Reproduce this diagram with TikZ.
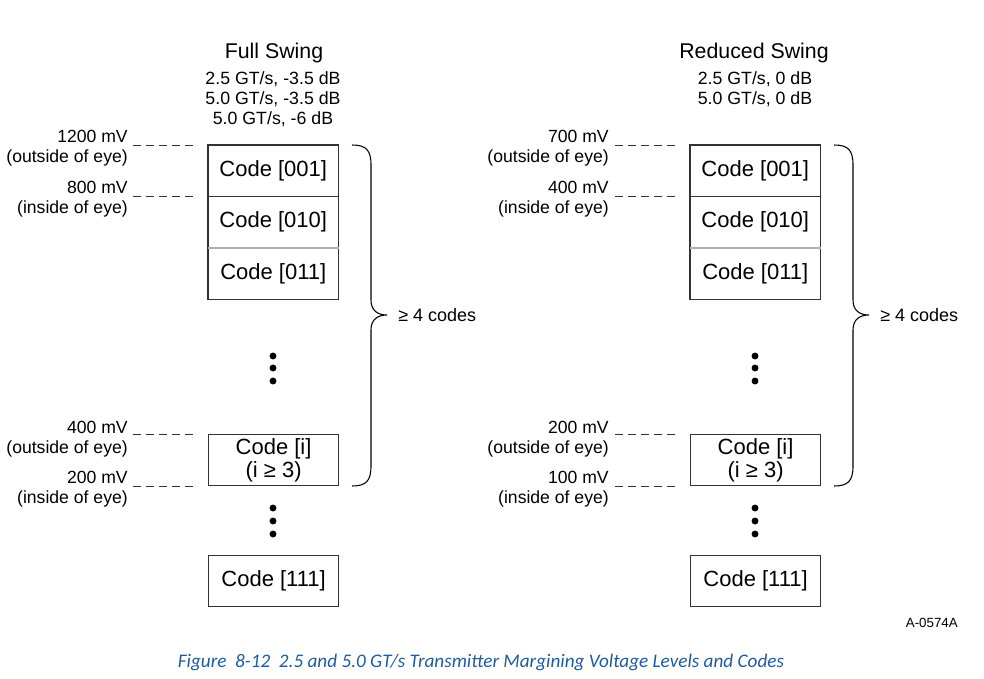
\documentclass[tikz,border=0pt]{standalone}
\usepackage{fontspec}
\setmainfont{Liberation Sans}
\newfontfamily\capfont{Carlito}
\usetikzlibrary{positioning}
\definecolor{capblue}{RGB}{30,92,160}
\definecolor{framegray}{RGB}{50,50,50}
\definecolor{rulegray}{RGB}{175,175,175}

\begin{document}
\begin{tikzpicture}[
  x=0.75pt, y=-0.75pt,
  codecell/.style={
    rectangle,
    minimum width=97.5pt,
    minimum height=38.25pt,
    inner sep=0pt,
    align=center,
    font=\fontsize{16.5}{17.5}\selectfont
  },
  codebox/.style={codecell, draw=framegray, line width=0.9pt},
  frame/.style={draw=framegray, line width=0.9pt},
  divider/.style={draw=rulegray, line width=0.9pt},
  swingtitle/.style={font=\fontsize{16}{18}\selectfont, inner sep=0pt, anchor=base},
  rates/.style={font=\fontsize{13.3}{15}\selectfont, align=center, inner sep=0pt, anchor=north},
  level/.style={font=\fontsize{13.2}{15}\selectfont, align=right, inner sep=0pt, anchor=north east},
  dashline/.style={draw=framegray, line width=0.75pt, dash pattern=on 6pt off 3.75pt},
  brace/.style={draw=black, line width=0.8pt},
  count/.style={font=\fontsize{13.5}{15}\selectfont, anchor=west, inner sep=0pt}
]
\useasboundingbox (0,0) rectangle (984,678);

% full swing
\node[swingtitle] (fsTitle) at (274,58) {Full Swing};
\node[rates] (fsRates) at (273,71) {2.5 GT/s, -3.5 dB\\5.0 GT/s, -3.5 dB\\5.0 GT/s, -6 dB};

\node[codecell, anchor=north west] (fsA) at (208,145) {Code [001]};
\node[codecell, below=0pt of fsA] (fsB) {Code [010]};
\node[codecell, below=0pt of fsB] (fsC) {Code [011]};
\draw[frame] (fsA.north west) rectangle (fsC.south east);
\draw[frame] (fsA.south west) -- (fsA.south east);
\draw[divider] (fsB.south west) -- (fsB.south east);

\node[codebox, anchor=north west] (fsI) at (208,434) {Code [i]\\(i ≥ 3)};
\node[codebox, anchor=north west] (fsLast) at (208,555) {Code [111]};

\foreach \y in {356,368,381,508,521,534}
  \fill (273,\y) circle (2.6pt);

\node[level] (fsL1) at (128,130) {1200 mV\\(outside of eye)};
\node[level] (fsL2) at (128,181) {800 mV\\(inside of eye)};
\node[level] (fsL3) at (128,421) {400 mV\\(outside of eye)};
\node[level] (fsL4) at (128,471) {200 mV\\(inside of eye)};
\draw[dashline] ([xshift=-56.25pt]fsA.north west) -- ([xshift=-9pt]fsA.north west);
\draw[dashline] ([xshift=-56.25pt]fsA.south west) -- ([xshift=-9pt]fsA.south west);
\draw[dashline] ([xshift=-56.25pt]fsI.north west) -- ([xshift=-9pt]fsI.north west);
\draw[dashline] ([xshift=-56.25pt]fsI.south west) -- ([xshift=-9pt]fsI.south west);

\draw[brace] (352,145) .. controls (366,145) and (371,150) .. (371,165) -- (371,300)
  .. controls (371,310) and (377,315) .. (387,315) .. controls (377,315) and (371,320) .. (371,330)
  -- (371,466) .. controls (371,481) and (366,486) .. (352,486);
\node[count] (fsCount) at (398,315) {≥ 4 codes};

% reduced swing
\node[swingtitle] (rsTitle) at (754,58) {Reduced Swing};
\node[rates] (rsRates) at (755,71) {2.5 GT/s, 0 dB\\5.0 GT/s, 0 dB};

\node[codecell, anchor=north west] (rsA) at (690,145) {Code [001]};
\node[codecell, below=0pt of rsA] (rsB) {Code [010]};
\node[codecell, below=0pt of rsB] (rsC) {Code [011]};
\draw[frame] (rsA.north west) rectangle (rsC.south east);
\draw[frame] (rsA.south west) -- (rsA.south east);
\draw[divider] (rsB.south west) -- (rsB.south east);

\node[codebox, anchor=north west] (rsI) at (690,434) {Code [i]\\(i ≥ 3)};
\node[codebox, anchor=north west] (rsLast) at (690,555) {Code [111]};

\foreach \y in {356,368,381,508,521,534}
  \fill (755,\y) circle (2.6pt);

\node[level] (rsL1) at (609,130) {700 mV\\(outside of eye)};
\node[level] (rsL2) at (609,181) {400 mV\\(inside of eye)};
\node[level] (rsL3) at (609,421) {200 mV\\(outside of eye)};
\node[level] (rsL4) at (609,471) {100 mV\\(inside of eye)};
\draw[dashline] ([xshift=-56.25pt]rsA.north west) -- ([xshift=-9pt]rsA.north west);
\draw[dashline] ([xshift=-56.25pt]rsA.south west) -- ([xshift=-9pt]rsA.south west);
\draw[dashline] ([xshift=-56.25pt]rsI.north west) -- ([xshift=-9pt]rsI.north west);
\draw[dashline] ([xshift=-56.25pt]rsI.south west) -- ([xshift=-9pt]rsI.south west);

\draw[brace] (834,145) .. controls (848,145) and (853,150) .. (853,165) -- (853,300)
  .. controls (853,310) and (859,315) .. (869,315) .. controls (859,315) and (853,320) .. (853,330)
  -- (853,466) .. controls (853,481) and (848,486) .. (834,486);
\node[count] (rsCount) at (880,315) {≥ 4 codes};

% figure id and caption
\node[font=\fontsize{10}{12}\selectfont, anchor=east, inner sep=0pt] (figId) at (958,623) {A-0574A};
\node[font=\capfont\itshape\fontsize{14.4}{16}\selectfont, text=capblue, inner sep=0pt] (caption) at (481,662)
  {Figure\ \ 8-12\ \ 2.5 and 5.0 GT/s Transmitter Margining Voltage Levels and Codes};
\end{tikzpicture}
\end{document}
